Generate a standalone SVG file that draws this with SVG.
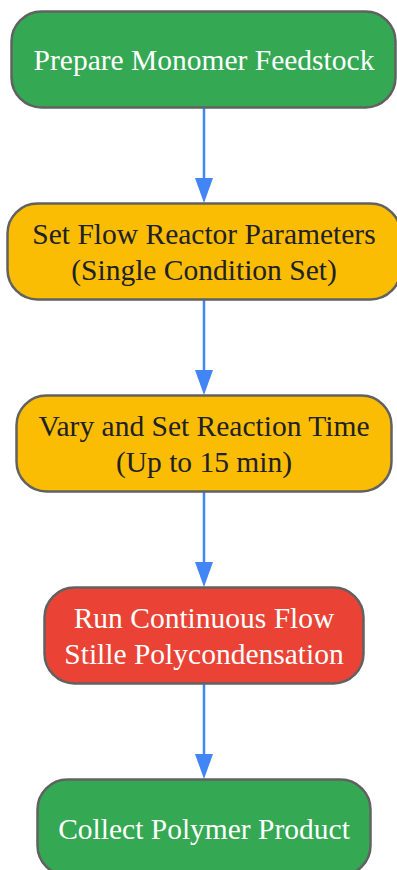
<svg xmlns="http://www.w3.org/2000/svg" width="397" height="870" viewBox="0 0 397 870">
<style>
.node{stroke:#616161;stroke-width:2.5}
.green{fill:#34a853}
.yellow{fill:#fbbc04}
.red{fill:#ea4335}
text{font-family:"Liberation Serif","Times New Roman",serif;font-size:29.5px;text-anchor:middle}
.light{fill:#ffffff}
.dark{fill:#202124}
.edge{stroke:#4285f4;stroke-width:2.5;fill:none}
.head{fill:#4285f4}
</style>
<g id="connectors">
<line class="edge" x1="204" y1="108" x2="204" y2="181"/>
<path class="head" d="M195,178 L213,178 L204,203 Z"/>
<line class="edge" x1="204" y1="300" x2="204" y2="373"/>
<path class="head" d="M195,370 L213,370 L204,395 Z"/>
<line class="edge" x1="204" y1="492" x2="204" y2="565"/>
<path class="head" d="M195,562 L213,562 L204,587 Z"/>
<line class="edge" x1="204" y1="684" x2="204" y2="757"/>
<path class="head" d="M195,754 L213,754 L204,779 Z"/>
</g>
<g id="node1">
<rect class="node green" x="11.5" y="11.5" width="384" height="96" rx="30"/>
<text class="light" x="204" y="70">Prepare Monomer Feedstock</text>
</g>
<g id="node2">
<rect class="node yellow" x="7.5" y="203.5" width="393" height="96" rx="30"/>
<text class="dark" x="204" y="243.5">Set Flow Reactor Parameters</text>
<text class="dark" x="204" y="280">(Single Condition Set)</text>
</g>
<g id="node3">
<rect class="node yellow" x="16.5" y="395.5" width="375" height="96" rx="30"/>
<text class="dark" x="204" y="435.5">Vary and Set Reaction Time</text>
<text class="dark" x="204" y="472">(Up to 15 min)</text>
</g>
<g id="node4">
<rect class="node red" x="44.5" y="587.5" width="319" height="96" rx="30"/>
<text class="light" x="204" y="627.5">Run Continuous Flow</text>
<text class="light" x="204" y="664">Stille Polycondensation</text>
</g>
<g id="node5">
<rect class="node green" x="37.5" y="779.5" width="333" height="96" rx="30"/>
<text class="light" x="204" y="838.5">Collect Polymer Product</text>
</g>
</svg>
